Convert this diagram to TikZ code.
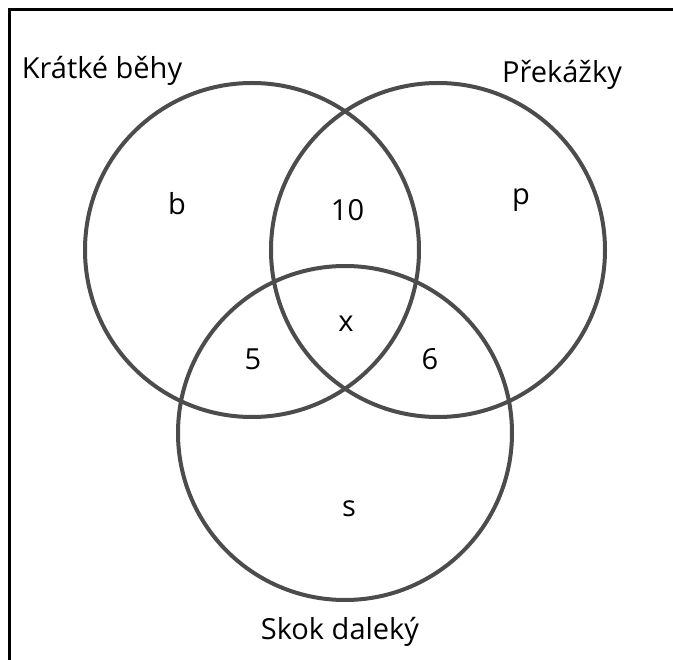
\documentclass[tikz,border=0pt]{standalone}
\usepackage{fontspec}
\setmainfont{Open Sans}
\begin{document}
\begin{tikzpicture}[x=1pt,y=-1pt,
  setcircle/.style={circle,draw=black!70,line width=4pt,minimum size=334pt,inner sep=0pt},
  lbl/.style={font=\fontsize{29}{34}\selectfont,anchor=base,inner sep=0pt},
  frameline/.style={draw=black,line width=3pt}]
\useasboundingbox (0,0) rectangle (673,660);
\draw[frameline] (9,662) -- (9,10) -- (675,10);
\node[setcircle] (K) at (252,250) {};
\node[setcircle] (P) at (438,250) {};
\node[setcircle] (S) at (345,433) {};
\node[lbl] (tK) at (102,79) {Krátké běhy};
\node[lbl] (tP) at (562,83) {Překážky};
\node[lbl] (tS) at (340,639) {Skok daleký};
\node[lbl] (nb) at (177,215) {b};
\node[lbl] (n10) at (347.5,221) {10};
\node[lbl] (np) at (521,205) {p};
\node[lbl] (nx) at (346,332) {x};
\node[lbl] (n5) at (253,370) {5};
\node[lbl] (n6) at (430,370) {6};
\node[lbl] (ns) at (349,517) {s};
\end{tikzpicture}
\end{document}
